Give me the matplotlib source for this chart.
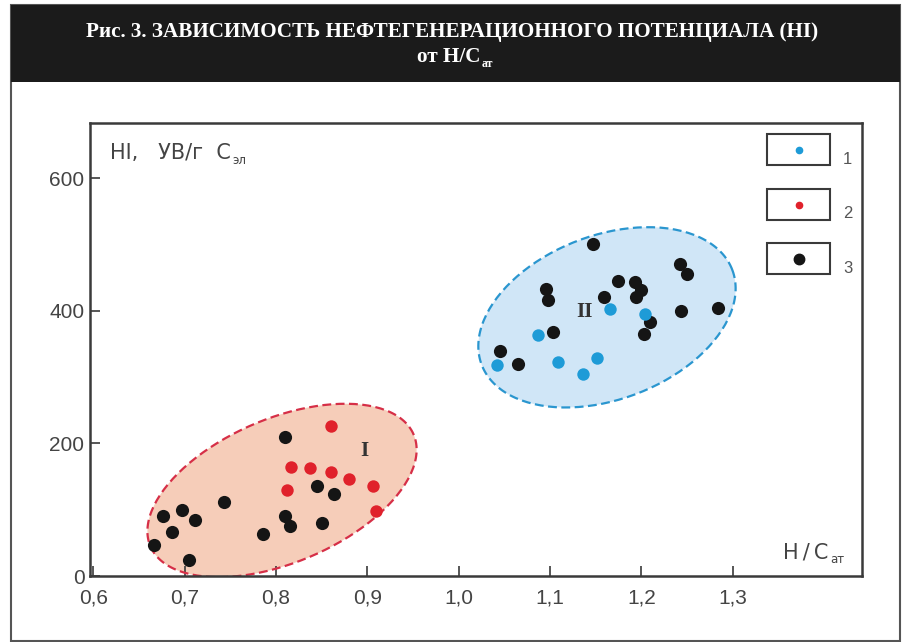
"""HI vs H/C scatter with two facies ellipses (Fig. 3 recreation)."""

import matplotlib
matplotlib.use("Agg")
import matplotlib.pyplot as plt
from matplotlib.patches import Rectangle
from matplotlib.ticker import FuncFormatter
import numpy as np

# --- data ---
blue_hc = [1.166, 1.204, 1.087, 1.042, 1.109, 1.152, 1.136]
blue_hi = [403, 395, 363, 318, 323, 329, 305]

red_hc = [0.860, 0.816, 0.837, 0.860, 0.880, 0.812, 0.906, 0.909]
red_hi = [226, 165, 163, 157, 146, 129, 135, 98]

black_hc = [0.810, 0.743, 0.697, 0.676, 0.711, 0.686, 0.666, 0.705, 0.786,
            0.810, 0.815, 0.845, 0.863, 0.850,
            1.147, 1.096, 1.098, 1.174, 1.193, 1.200, 1.194, 1.159, 1.242,
            1.250, 1.244, 1.284, 1.210, 1.203, 1.103, 1.045, 1.065]
black_hi = [209, 111, 99, 91, 85, 66, 47, 24, 63,
            91, 75, 135, 123, 80,
            501, 433, 416, 445, 444, 431, 420, 420, 471,
            456, 399, 404, 383, 365, 368, 339, 319]

x_ticks = [0.6, 0.7, 0.8, 0.9, 1.0, 1.1, 1.2, 1.3]
y_ticks = [0, 200, 400, 600]
legend_labels = ["1", "2", "3"]

# group ellipses: centre (data), semi-axes (px), angle (deg, screen)
ell_I = dict(cx=0.8065, cy=129, a=143, b=72, ang=23)
ell_II = dict(cx=1.1624, cy=390, a=134, b=82, ang=20.7)

XLIM = (0.5962, 1.4417)
YLIM = (0, 683)

BLUE = "#1e9bd7"
RED = "#e0212b"
BLACK = "#151515"
GREY = "#3a3a3a"
TXT = "#444444"

W, H = 905, 642


def ellipse_pts(e, sx, sy, n=200):
    t = np.linspace(0, 2 * np.pi, n)
    th = np.radians(e["ang"])
    du = e["a"] * np.cos(t) * np.cos(th) - e["b"] * np.sin(t) * np.sin(th)
    dv = e["a"] * np.cos(t) * np.sin(th) + e["b"] * np.sin(t) * np.cos(th)
    return e["cx"] + du / sx, e["cy"] + dv / sy


def main() -> None:
    fig = plt.figure(figsize=(W / 100, H / 100), dpi=100)
    fig.patch.set_facecolor("white")

    # outer panel + black title bar
    fig.patches.append(Rectangle((11 / W, 1 - 641 / H), 889 / W, 636 / H,
                                 transform=fig.transFigure, facecolor="white",
                                 edgecolor="#555555", lw=1.5, zorder=-2))
    fig.patches.append(Rectangle((11 / W, 1 - 82 / H), 889 / W, 77 / H,
                                 transform=fig.transFigure, facecolor="#1b1b1b",
                                 edgecolor="#1b1b1b", lw=0, zorder=-1))

    ax = fig.add_axes([90 / W, 1 - 576 / H, 772 / W, 453 / H])
    ax.set_zorder(2)
    ax.patch.set_alpha(0)
    ax.set_xlim(*XLIM)
    ax.set_ylim(*YLIM)

    sx = 772 / (XLIM[1] - XLIM[0])
    sy = 453 / (YLIM[1] - YLIM[0])

    ex, ey = ellipse_pts(ell_I, sx, sy)
    ax.fill(ex, ey, facecolor="#f6cdb9", edgecolor="none", zorder=1)
    ax.plot(ex, ey, color="#d62f47", lw=1.6, ls=(0, (4, 2)), zorder=2)
    ex, ey = ellipse_pts(ell_II, sx, sy)
    ax.fill(ex, ey, facecolor="#d0e6f7", edgecolor="none", zorder=1)
    ax.plot(ex, ey, color="#2a96cf", lw=1.6, ls=(0, (4, 2)), zorder=2)

    ax.scatter(black_hc, black_hi, s=90, color=BLACK, zorder=3, lw=0)
    ax.scatter(red_hc, red_hi, s=80, color=RED, zorder=4, lw=0)
    ax.scatter(blue_hc, blue_hi, s=80, color=BLUE, zorder=4, lw=0)

    ax.text(0.897, 189, "I", fontsize=15, fontweight="bold",
            family="Liberation Serif", color="#333333", ha="center", va="center", zorder=5)
    ax.text(1.138, 398, "II", fontsize=15, fontweight="bold",
            family="Liberation Serif", color="#333333", ha="center", va="center", zorder=5)

    # axes styling
    for side in ["left", "bottom", "right", "top"]:
        ax.spines[side].set_color(GREY)
        ax.spines[side].set_linewidth(1.8)
    ax.set_xticks(x_ticks)
    ax.set_yticks(y_ticks)
    ax.xaxis.set_major_formatter(FuncFormatter(lambda v, p: f"{v:.1f}".replace(".", ",")))
    ax.tick_params(direction="in", length=7, width=1.2, color=GREY,
                   labelsize=15, labelcolor=TXT)
    ax.tick_params(axis="x", pad=9)
    ax.tick_params(axis="y", pad=4)
    for lab in ax.get_xticklabels() + ax.get_yticklabels():
        lab.set_family("Liberation Sans")

    # axis captions inside the frame
    t1 = ax.text((110 - 90) / 772, (576 - 159) / 453, "HI,   УВ/г  C",
                 transform=ax.transAxes, fontsize=15, color=TXT,
                 family="DejaVu Sans", va="baseline", ha="left")
    ax.annotate("эл", xy=(1, 0), xycoords=t1, xytext=(1, -1), textcoords="offset points",
                fontsize=8.5, color=TXT, family="DejaVu Sans", va="baseline")
    t2 = ax.text((783 - 90) / 772, (576 - 558) / 453, "H\u2009/\u2009C",
                 transform=ax.transAxes, fontsize=15, color=TXT,
                 family="DejaVu Sans", va="baseline", ha="left")
    ax.annotate("ат", xy=(1, 0), xycoords=t2, xytext=(1, -1), textcoords="offset points",
                fontsize=8.5, color=TXT, family="DejaVu Sans", va="baseline")

    # legend boxes
    box_tops = [134, 189, 243]
    colors = [BLUE, RED, BLACK]
    sizes = [4.5, 4.5, 7.5]
    for lbl, top, c, ms in zip(legend_labels, box_tops, colors, sizes):
        y0 = (576 - top - 31) / 453
        ax.add_patch(Rectangle(((767 - 90) / 772, y0), 63 / 772, 31 / 453,
                               transform=ax.transAxes, facecolor="white",
                               edgecolor=GREY, lw=1.5, zorder=6))
        ax.plot([(799 - 90) / 772], [y0 + 15.5 / 453], "o", ms=ms, color=c,
                transform=ax.transAxes, zorder=7)
        ax.text((843 - 90) / 772, y0 + 6 / 453, lbl, transform=ax.transAxes,
                fontsize=12, color="#555555", family="Liberation Sans",
                ha="left", va="center", zorder=7)

    # title
    fig.text(0.5, 1 - 32 / H,
             "Рис. 3. ЗАВИСИМОСТЬ НЕФТЕГЕНЕРАЦИОННОГО ПОТЕНЦИАЛА (HI)",
             color="white", fontsize=15.2, fontweight="bold",
             family="Liberation Serif", ha="center", va="center", zorder=3)
    t4 = fig.text(0.496, 1 - 57 / H, "от H/C", color="white", fontsize=15.2,
                  fontweight="bold", family="Liberation Serif",
                  ha="center", va="center", zorder=3)
    ax.annotate("ат", xy=(1, 0), xycoords=t4, xytext=(0.5, 0), textcoords="offset points",
                color="white", fontsize=8.5, fontweight="bold",
                family="Liberation Serif", va="baseline", annotation_clip=False)

    fig.savefig("out.png", dpi=100)
    plt.close(fig)


if __name__ == "__main__":
    main()
